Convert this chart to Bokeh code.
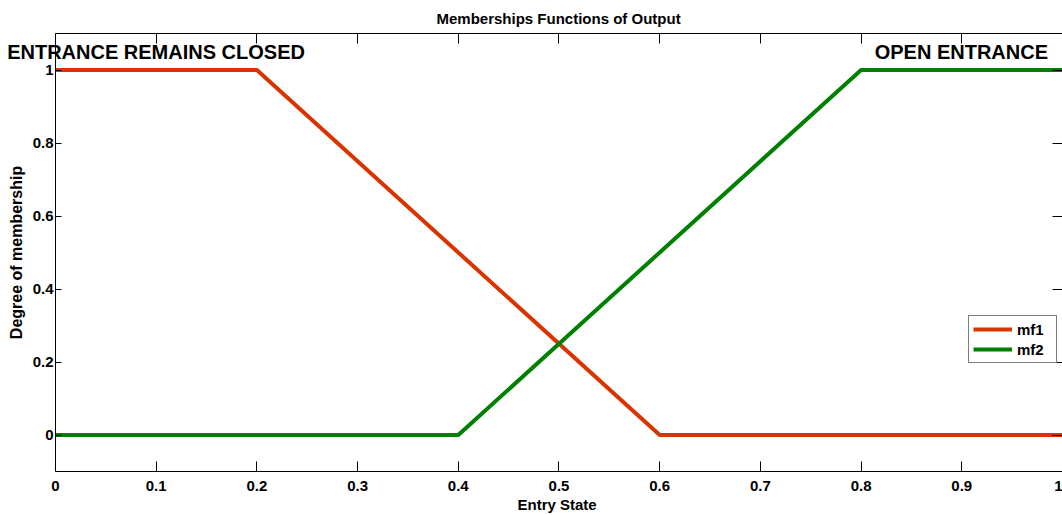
from bokeh.plotting import figure
from bokeh.models import Range1d, LinearAxis, FixedTicker, Label, Legend, LegendItem, Title
from bokeh.embed import file_html
from bokeh.resources import INLINE

# ---- data ----
x_mf1 = [0.0, 0.2, 0.6, 1.0]
y_mf1 = [1.0, 1.0, 0.0, 0.0]
x_mf2 = [0.0, 0.4, 0.8, 1.0]
y_mf2 = [0.0, 0.0, 1.0, 1.0]
x_ticks = [0, 0.1, 0.2, 0.3, 0.4, 0.5, 0.6, 0.7, 0.8, 0.9, 1.0]
x_tick_labels = ["0", "0.1", "0.2", "0.3", "0.4", "0.5", "0.6", "0.7", "0.8", "0.9", "1"]
y_ticks = [0, 0.2, 0.4, 0.6, 0.8, 1.0]
y_tick_labels = ["0", "0.2", "0.4", "0.6", "0.8", "1"]
series_names = ["mf1", "mf2"]
title_text = "Memberships Functions of Output"
x_label = "Entry State"
y_label = "Degree of membership"
left_note = "ENTRANCE REMAINS CLOSED"
right_note = "OPEN ENTRANCE"

FONT = "Liberation Sans"
RED = "#D93300"
GREEN = "#008000"

p = figure(width=1062, height=515, output_backend="svg", toolbar_location=None,
           x_range=Range1d(-0.0546, 1.0), y_range=Range1d(-0.1, 1.1),
           min_border_left=0, min_border_right=0, min_border_top=33, min_border_bottom=44,
           y_axis_label=y_label)
p.title.text = title_text
p.title.align = "left"
p.title.offset = 436
p.title.text_font = FONT
p.title.text_font_size = "15px"
p.title.text_font_style = "bold"
p.title.text_color = "black"
p.title.standoff = 14
p.outline_line_color = None
p.xgrid.visible = False
p.ygrid.visible = False
p.background_fill_color = "white"
p.border_fill_color = "white"

xt = {t: l for t, l in zip(x_ticks, x_tick_labels)}
yt = {t: l for t, l in zip(y_ticks, y_tick_labels)}

def style_axis(ax, ticks, labels, tick_len, show_labels=True, show_line=True):
    ax.ticker = FixedTicker(ticks=ticks)
    ax.major_label_overrides = labels
    ax.minor_tick_line_color = None
    ax.major_tick_in = tick_len
    ax.major_tick_out = 0
    ax.major_tick_line_color = "black"
    ax.axis_line_color = "black" if show_line else None
    ax.axis_line_width = 1
    ax.major_label_text_font = FONT
    ax.major_label_text_font_style = "bold"
    ax.major_label_text_color = "black"
    ax.axis_label_text_font = FONT
    ax.axis_label_text_font_style = "bold"
    ax.axis_label_text_font_size = "15px"
    ax.axis_label_text_color = "black"
    if show_labels:
        ax.major_label_text_font_size = "15px"
    else:
        ax.major_label_text_font_size = "1px"
        ax.major_label_text_color = None
        ax.major_label_standoff = 0

bx = p.xaxis[0]
style_axis(bx, x_ticks, xt, 10)
bx.bounds = (0, 1)
bx.major_label_standoff = 9

# x-axis title, aligned to the plotted span (0..1) rather than the whole frame
p.add_layout(Title(text=x_label, align="left", offset=517, text_font=FONT,
                   text_font_size="15px", text_font_style="bold", text_color="black",
                   standoff=0), "below")

ly = p.yaxis[0]
style_axis(ly, y_ticks, yt, 6)
ly.fixed_location = 0
ly.axis_label_text_font_size = "16px"
ly.major_label_standoff = 2
ly.axis_label_standoff = 5

top_ax = LinearAxis()
style_axis(top_ax, x_ticks, xt, 10, show_labels=False)
top_ax.bounds = (0, 1)
p.add_layout(top_ax, "above")

right_ax = LinearAxis()
style_axis(right_ax, y_ticks, yt, 10, show_labels=False, show_line=False)
right_ax.fixed_location = 1.0
p.add_layout(right_ax, "right")

r1 = p.line(x_mf1, y_mf1, line_color=RED, line_width=4)
r2 = p.line(x_mf2, y_mf2, line_color=GREEN, line_width=4)

legend = Legend(items=[LegendItem(label=series_names[0], renderers=[r1]),
                       LegendItem(label=series_names[1], renderers=[r2])],
                location=(968, 108))
legend.label_text_font = FONT
legend.label_text_font_style = "bold"
legend.label_text_font_size = "15px"
legend.label_text_color = "black"
legend.border_line_color = "black"
legend.border_line_width = 1
legend.background_fill_alpha = 1
legend.glyph_width = 39
legend.glyph_height = 18
legend.label_height = 18
legend.label_width = 35
legend.label_standoff = 5
legend.padding = 4
legend.spacing = 2
legend.margin = 0
p.add_layout(legend, "center")

for txt, xx in [(left_note, -0.048), (right_note, 0.8135)]:
    p.add_layout(Label(x=xx, y=1.05, text=txt, text_font=FONT, text_font_style="bold",
                       text_font_size="20px", text_baseline="middle", text_align="left",
                       text_color="black"))

open("out.html", "w").write(file_html(p, INLINE))
